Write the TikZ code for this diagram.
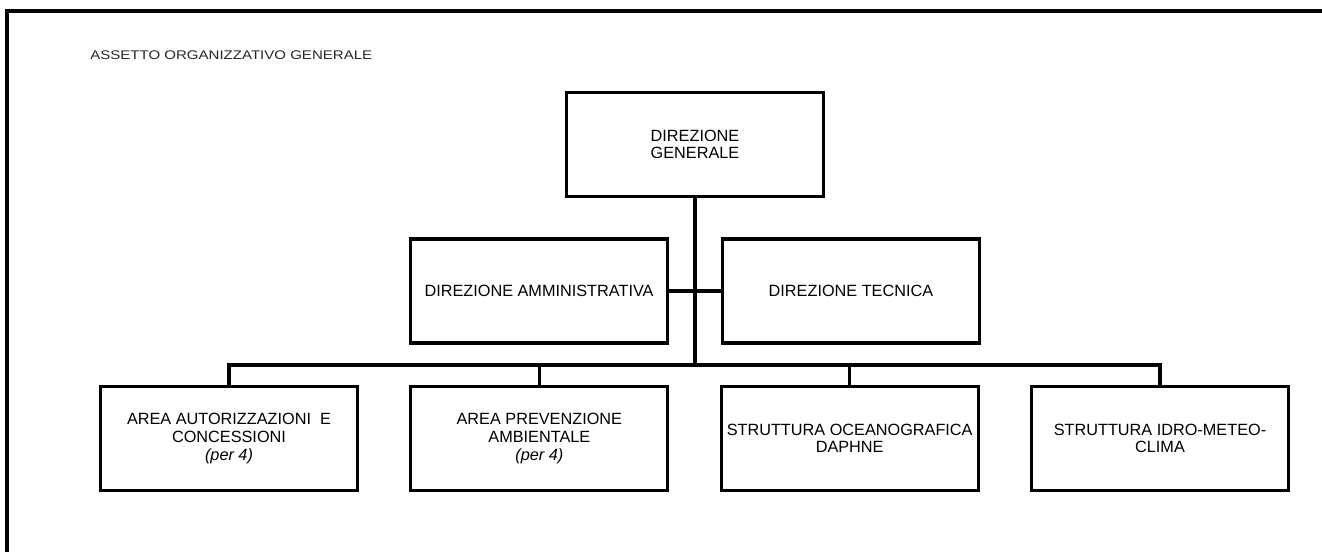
\documentclass[tikz,border=0pt]{standalone}
\usepackage{fontspec}
\setmainfont{Liberation Sans}
\newfontfamily\titlefont[FakeStretch=1.2]{Liberation Sans}
\usepackage{tikz}
\usetikzlibrary{positioning}
\newcommand{\orgsetup}{%
  % color of boxes and lines
  \colorlet{colLine}{black}
  % color of the title
  \colorlet{colTitle}{black!85}

  % center coordinate of general management
  \coordinate (oDG) at (695, 144.5);
  % meeting point between the two directions
  \coordinate (mid) at (695, 291);
  % point where the main line meets the bus
  \coordinate (bus) at (695, 365);
  % center coordinate of the first area
  \coordinate (oA1) at (229, 438.5);
}

\begin{document}
\begin{tikzpicture}[x=0.75pt, y=-0.75pt,
    unit/.style={draw=colLine, line width=2.3pt, outer sep=0pt, inner sep=0pt,
      minimum width=192.75pt, minimum height=78pt, align=center,
      font=\fontsize{12.2}{13.2}\selectfont},
    link/.style={draw=colLine, line width=2.3pt}]

  % fix page size
  \useasboundingbox (0, 0) rectangle (1322, 551);

  % define colors and points
  \orgsetup

  % outer frame, cut by the page
  \draw[colLine, line width=2.5pt] (1340, 11) -- (7, 11) -- (7, 570);

  % add title
  \node[anchor=west, inner sep=0pt, text=colTitle,
    font={\titlefont\fontsize{9.4}{10}\selectfont}] (title) at (90, 55)
    {ASSETTO ORGANIZZATIVO GENERALE};

  % add management boxes
  \node[unit] (DG) at (oDG) {DIREZIONE\\GENERALE};
  \node[unit, left=20.6pt of mid] (DA) {DIREZIONE AMMINISTRATIVA};
  \node[unit, right=20.6pt of mid] (DT) {DIREZIONE TECNICA};

  % add area boxes
  \node[unit] (A1) at (oA1) {AREA AUTORIZZAZIONI~ E\\CONCESSIONI\\\textit{(per 4)}};
  \node[unit, right=40pt of A1] (A2) {AREA PREVENZIONE\\AMBIENTALE\\\textit{(per 4)}};
  \node[unit, right=40pt of A2] (A3) {STRUTTURA OCEANOGRAFICA\\DAPHNE};
  \node[unit, right=40pt of A3] (A4) {STRUTTURA IDRO-METEO-\\CLIMA};

  % connect the boxes
  \draw[link] (DG.south) -- (bus);
  \draw[link] (DA.east) -- (DT.west);
  \draw[link] (A1.north) |- (bus) -| (A4.north);
  \draw[link] (A2.north) -- (A2.north |- bus);
  \draw[link] (A3.north) -- (A3.north |- bus);

\end{tikzpicture}
\end{document}
